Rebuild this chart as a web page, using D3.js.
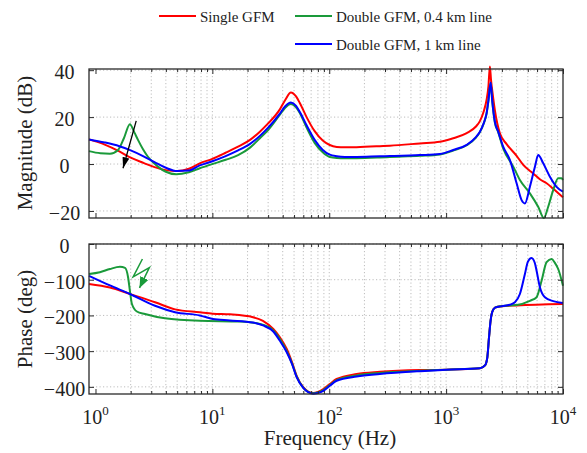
<!DOCTYPE html>
<html><head><meta charset="utf-8">
<script src="https://cdn.jsdelivr.net/npm/d3@7"></script>
<style>
body{margin:0;background:#fff}
svg{display:block}
svg text{font-family:"Liberation Serif","Tinos","Times New Roman","Times","DejaVu Serif","Noto Serif",serif !important;fill:#222}
</style>
</head><body>
<svg id="c" width="587" height="453"></svg>
<script>
// ---------- data ----------
const seriesNames = ["Single GFM", "Double GFM, 0.4 km line", "Double GFM, 1 km line"];
const seriesColors = ["#ff0000", "#1a9a3a", "#0000ff"];

const redMagFreq = [0.88,1.2,1.6,2.0,2.6,3.2,4.0,5.0,6.3,7.8,10,13,16.6,21,25.5,30,37.8,42,47,52,56,64,75,88,101,116,136,171,271,330,597,885,1150,1500,1800,1945,2100,2220,2300,2368,2420,2500,2612,2884,3292,4010,4570,5560,6342,7240,8245,10000];
const redMagDb   = [10.5,8.3,5.4,2.7,0.4,-1.3,-2.6,-3.0,-2.0,0.3,2.2,4.8,7.4,10.3,13.8,17.3,23.3,27.3,30.5,28.8,26,20,14,10,8.1,7.3,7.1,7.2,7.6,7.8,8.8,9.5,11,13.2,16,18.3,22.5,27.4,33,41.6,36,30,23,13.1,8.5,3.5,-0.4,-4,-6.5,-8.2,-10.5,-14.2];

const greenMagFreq = [0.88,1.1,1.33,1.56,1.75,1.97,2.15,2.31,2.55,2.81,3.42,4.0,4.9,6.3,7.8,10,13,16.6,21,25.5,30,37.8,42,47,52,56,64,75,88,101,116,136,171,271,330,597,885,1150,1500,1800,1945,2100,2220,2300,2404,2480,2612,2790,3077,3753,4277,5210,6134,6866,7470,8245,9100,9723,10000];
const greenMagDb   = [5.5,4.6,4.4,6,11,17,13.5,10.3,6.3,3.1,-1.1,-3.3,-4.4,-3.5,-1.8,0,1.8,3.8,7,11,14.5,21,24,25.6,24.2,21.8,15.5,9,5,3,2.6,2.5,2.5,2.8,3,3.5,4.1,5.7,8,11.3,13.6,17.3,21.5,26.8,34.5,26.8,17.8,13.6,6.7,-1.1,-6.8,-12.5,-18.2,-23,-18.2,-11.1,-6.1,-6.1,-6.8];

const blueMagFreq = [0.88,1.2,1.6,2.0,2.6,3.2,4.0,5.0,6.3,7.8,10,13,16.6,21,25.5,30,37.8,42,47,52,56,64,75,88,101,116,136,171,271,330,597,885,1150,1500,1800,1945,2100,2220,2300,2404,2480,2612,2790,3077,3515,4010,4424,4722,5210,5751,6134,6775,7726,8813,10000];
const blueMagDb   = [10.5,9.2,7.6,5.8,3.2,0.8,-1.6,-3.0,-2.8,-0.6,1.2,3.4,5.8,8.6,12,15.5,21.5,24.6,26.2,24.8,22.2,16.5,10.3,6,4,3.3,3.0,3.0,3.3,3.4,3.8,4.3,6,8.2,11.5,13.8,17.5,21.7,27,34.7,27,18,13.8,7.4,1.7,-8.2,-15.4,-16.8,-9.7,-1.2,3.8,0.3,-5.4,-9.7,-11.8];

const redPhaseFreq = [0.88,1.33,1.97,3.23,4.8,7.8,10.1,14.1,22.3,27.1,33.2,37.8,43.3,48,52.6,59.9,66,73,80,88.9,101,115.7,171.5,271,600,1010,1945,2150,2250,2330,2400,2480,2620,3000,4010,10000];
const redPhaseDeg  = [-112,-122,-140,-163,-183,-191,-195,-197,-205,-215,-238,-261,-294,-331,-369,-401,-413,-417,-414,-406,-392,-378,-364,-358,-353,-352,-348,-340,-318,-260,-215,-190,-178,-174,-172,-168];

const greenPhaseFreq = [0.88,1.09,1.33,1.62,1.79,1.9,1.97,2.05,2.26,2.65,3.93,7.83,17.2,25.5,33.2,37.8,43.3,48,52.6,59.9,66,73,80,88.9,101,115.7,171.5,271,600,1010,1945,2150,2250,2330,2400,2480,2620,3000,4010,5210,5943,6556,7240,7985,8500,9100,10000];
const greenPhaseDeg  = [-84,-79,-70,-64,-67,-93,-131,-168,-189,-196,-208,-215,-217,-224,-242,-266,-300,-334,-371,-402,-414,-418,-416,-409,-395,-381,-368,-361,-355,-352,-348,-340,-318,-260,-215,-190,-178,-174,-171,-159,-149,-103,-51,-42,-52,-70,-117];

const bluePhaseFreq = [0.88,1.33,1.97,3.23,4.8,7.8,10.1,14.1,22.3,27.1,33.2,37.8,43.3,48,52.6,59.9,66,73,80,88.9,101,115.7,171.5,271,600,1010,1945,2150,2250,2330,2400,2480,2620,3000,3500,3880,4277,4722,5000,5385,5751,5943,6342,7000,8245,10000];
const bluePhaseDeg  = [-89,-116,-140,-173,-191,-200,-210,-214,-220,-228,-245,-271,-303,-336,-373,-403,-415,-419,-417,-411,-397,-383,-371,-364,-356,-352,-348,-340,-318,-260,-215,-190,-178,-174,-170,-163,-140,-84,-50,-39,-54,-75,-121,-149,-160,-165];

const magTicks = [-20, 0, 20, 40];
const phaseTicks = [-400, -300, -200, -100, 0];
const freqDecades = [1, 10, 100, 1000, 10000];
const decadeExponents = ["0", "1", "2", "3", "4"];

// annotation arrows (data coordinates)
const magArrowFreq = [2.23, 1.72];
const magArrowDb = [18.4, -1.8];
const phaseArrowFreq = [2.52, 2.10, 2.89, 2.38];
const phaseArrowDeg = [-42, -92, -66, -123];

// ---------- drawing ----------
const FONT = '"Liberation Serif","Tinos","Times New Roman","Times","DejaVu Serif","Noto Serif",serif';
const svg = d3.select("#c");
const L = 89, R = 563;
const x = d3.scaleLog().domain([0.88, 10000]).range([L, R]);
const yMag = d3.scaleLinear().domain([-23, 40.5]).range([218, 69]);
const yPh = d3.scaleLinear().domain([-420, 0]).range([394, 244]);

const allX = x.ticks().filter(v => v >= 1 && v <= 10000);
const minorX = allX.filter(v => !freqDecades.includes(v));

const defs = svg.append("defs");
function head(id, color, w, h) {
  defs.append("marker").attr("id", id).attr("markerUnits", "userSpaceOnUse")
    .attr("viewBox", `0 0 ${w} ${h}`).attr("refX", w).attr("refY", h / 2)
    .attr("markerWidth", w).attr("markerHeight", h).attr("orient", "auto")
    .append("path").attr("d", `M0,0L${w},${h/2}L0,${h}Z`).attr("fill", color);
}
head("ahBlack", "#000", 11, 7);
head("ahGreen", seriesColors[1], 11, 9);

function panel(y, yTicks, top, bottom, series) {
  const g = svg.append("g");
  g.append("g").selectAll("line").data(allX.filter(v => v > 1 && v < 10000)).join("line")
    .attr("x1", d => x(d)).attr("x2", d => x(d)).attr("y1", top).attr("y2", bottom)
    .attr("stroke", "#bdbdbd").attr("stroke-width", 1).attr("stroke-dasharray", "1.2,2.3");
  g.append("g").selectAll("line").data(yTicks).join("line")
    .attr("x1", L).attr("x2", R).attr("y1", d => y(d)).attr("y2", d => y(d))
    .attr("stroke", "#bdbdbd").attr("stroke-width", 1).attr("stroke-dasharray", "1.2,2.3");
  const line = d3.line().x(d => x(d[0])).y(d => y(d[1])).curve(d3.curveMonotoneX);
  series.forEach((s, i) => {
    g.append("path").datum(d3.zip(s[0], s[1])).attr("d", line)
      .attr("fill", "none").attr("stroke", seriesColors[i]).attr("stroke-width", 2)
      .attr("stroke-linejoin", "round");
  });
  g.append("rect").attr("x", L).attr("y", top).attr("width", R - L).attr("height", bottom - top)
    .attr("fill", "none").attr("stroke", "#2a2a2a").attr("stroke-width", 1.3);
  const clean = a => a.call(s => s.select(".domain").remove()).call(s => s.selectAll("line").attr("stroke", "#2a2a2a"));
  g.append("g").attr("transform", `translate(0,${bottom})`).call(d3.axisBottom(x).tickValues(freqDecades).tickSize(-5).tickFormat("")).call(clean);
  g.append("g").attr("transform", `translate(0,${bottom})`).call(d3.axisBottom(x).tickValues(minorX).tickSize(-3).tickFormat("")).call(clean);
  g.append("g").attr("transform", `translate(0,${top})`).call(d3.axisTop(x).tickValues(freqDecades).tickSize(-5).tickFormat("")).call(clean);
  g.append("g").attr("transform", `translate(0,${top})`).call(d3.axisTop(x).tickValues(minorX).tickSize(-3).tickFormat("")).call(clean);
  const ya = g.append("g").attr("transform", `translate(${L},0)`)
    .call(d3.axisLeft(y).tickValues(yTicks).tickSize(-5).tickPadding(13)).call(clean);
  ya.attr("font-family", FONT).attr("font-size", 20);
  ya.selectAll("text").attr("fill", "#222").attr("dy", "0.42em")
    .attr("text-anchor", "middle").attr("x", -24.5);
  g.append("g").attr("transform", `translate(${R},0)`).call(d3.axisRight(y).tickValues(yTicks).tickSize(-5).tickFormat("")).call(clean);
  return g;
}

panel(yMag, magTicks, 69, 218, [[redMagFreq, redMagDb], [greenMagFreq, greenMagDb], [blueMagFreq, blueMagDb]]);
panel(yPh, phaseTicks, 244, 394, [[redPhaseFreq, redPhaseDeg], [greenPhaseFreq, greenPhaseDeg], [bluePhaseFreq, bluePhaseDeg]]);

const xl = svg.append("g").attr("font-family", FONT).selectAll("text").data(freqDecades).join("text")
  .attr("x", d => x(d)).attr("y", 424).attr("text-anchor", "middle").attr("font-size", 20);
xl.append("tspan").text("10");
xl.append("tspan").attr("font-size", 13).attr("dy", -9).text((d, i) => decadeExponents[i]);

const titles = svg.append("g").attr("font-family", FONT).attr("font-size", 21).attr("text-anchor", "middle");
titles.append("text").attr("x", 330).attr("y", 445).text("Frequency (Hz)");
titles.append("text").attr("transform", "translate(32,143) rotate(-90)").text("Magnitude (dB)");
titles.append("text").attr("transform", "translate(32,319) rotate(-90)").text("Phase (deg)");

svg.append("path").datum(d3.zip(magArrowFreq, magArrowDb))
  .attr("d", d3.line().x(d => x(d[0])).y(d => yMag(d[1])))
  .attr("fill", "none").attr("stroke", "#000").attr("stroke-width", 1.3).attr("marker-end", "url(#ahBlack)");
svg.append("path").datum(d3.zip(phaseArrowFreq, phaseArrowDeg))
  .attr("d", d3.line().x(d => x(d[0])).y(d => yPh(d[1])))
  .attr("fill", "none").attr("stroke", seriesColors[1]).attr("stroke-width", 1.5).attr("marker-end", "url(#ahGreen)");

const legendPos = [[159, 16], [295, 16], [295, 44]];
const lg = svg.append("g").attr("font-family", FONT).selectAll("g").data(seriesNames).join("g")
  .attr("transform", (d, i) => `translate(${legendPos[i][0]},${legendPos[i][1]})`);
lg.append("line").attr("x1", 0).attr("x2", 37).attr("y1", 0).attr("y2", 0)
  .attr("stroke", (d, i) => seriesColors[i]).attr("stroke-width", 2);
lg.append("text").attr("x", 41).attr("y", 5.5).attr("font-size", 15).text(d => d);
</script>
</body></html>
